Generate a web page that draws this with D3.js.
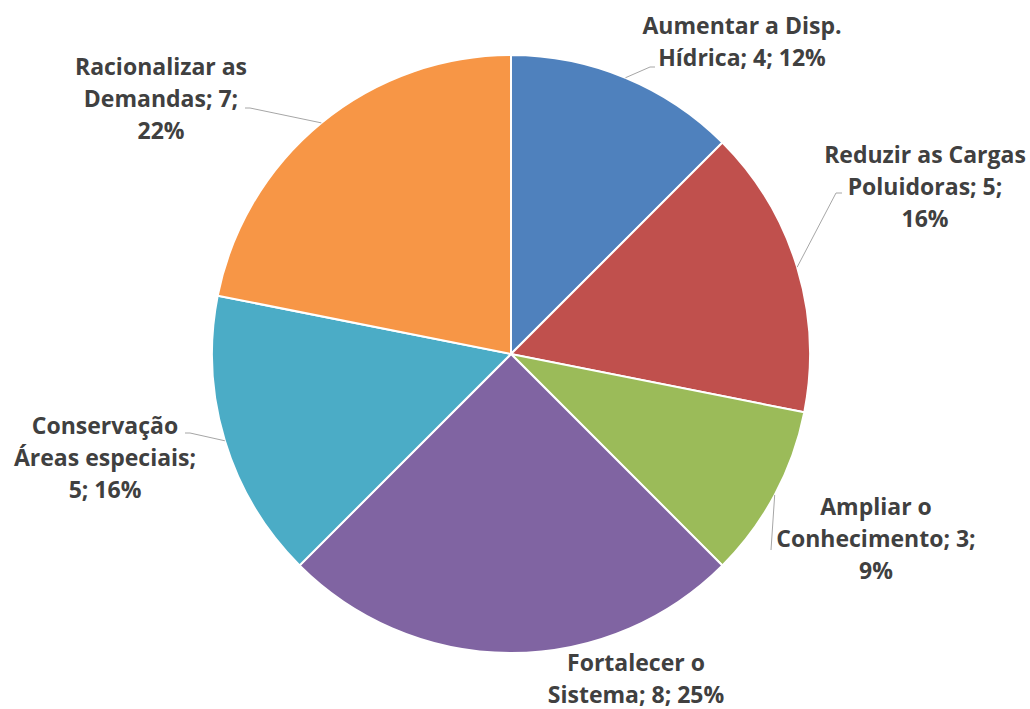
<!DOCTYPE html>
<html>
<head>
<meta charset="utf-8">
<script src="https://cdn.jsdelivr.net/npm/d3@7"></script>
<style>
  body { margin: 0; background: #fff; }
  svg text { font-family: "Open Sans", Lato, sans-serif; font-weight: bold; fill: #404040; }
</style>
</head>
<body>
<div id="chart"></div>
<script>
// data
const categories = [
    "Aumentar a Disp. Hídrica",
    "Reduzir as Cargas Poluidoras",
    "Ampliar o Conhecimento",
    "Fortalecer o Sistema",
    "Conservação Áreas especiais",
    "Racionalizar as Demandas"
];
const values = [4, 5, 3, 8, 5, 7];
const percents = ["12%", "16%", "9%", "25%", "16%", "22%"];

// how each data label is wrapped, as Excel did it
const labelLines = [
    ["Aumentar a Disp.", "Hídrica; 4; 12%"],
    ["Reduzir as Cargas", "Poluidoras; 5;", "16%"],
    ["Ampliar o", "Conhecimento; 3;", "9%"],
    ["Fortalecer o", "Sistema; 8; 25%"],
    ["Conservação", "Áreas especiais;", "5; 16%"],
    ["Racionalizar as", "Demandas; 7;", "22%"]
];

const colors = ["#4F81BD", "#C0504D", "#9BBB59", "#8064A2", "#4BACC6", "#F79646"];

// label placement (centre x, first baseline) and leader elbow, "best fit" style
const labelLayout = [
    {x: 742, y: 34, elbow: [650, 67], end: [655, 67]},
    {x: 925, y: 163, elbow: [836, 193], end: [842, 193]},
    {x: 876, y: 515, elbow: [771, 550], end: null},
    {x: 636, y: 671, elbow: null, end: null},
    {x: 105, y: 434, elbow: [190, 433], end: [185, 433]},
    {x: 161, y: 75, elbow: [250, 108], end: [245, 108]}
];

const width = 1030, height = 709;
const cx = 511, cy = 354, radius = 299;
const lineHeight = 32;

const svg = d3.select("#chart")
    .append("svg")
    .attr("width", width)
    .attr("height", height);

const pie = d3.pie().sort(null).value(d => d);
const arcs = pie(values);

const arc = d3.arc().innerRadius(0).outerRadius(radius);
const edge = d3.arc().innerRadius(radius).outerRadius(radius);

const g = svg.append("g").attr("transform", `translate(${cx},${cy})`);

g.selectAll("path.slice")
    .data(arcs)
    .enter().append("path")
    .attr("class", "slice")
    .attr("d", arc)
    .attr("fill", (d, i) => colors[i])
    .attr("stroke", "#fff")
    .attr("stroke-width", 2);

// leader lines
svg.append("g").selectAll("polyline")
    .data(arcs.filter((d, i) => labelLayout[i].elbow))
    .enter().append("polyline")
    .attr("points", d => {
        const L = labelLayout[d.index];
        const p = edge.centroid(d);
        const pts = [[p[0] + cx, p[1] + cy], L.elbow];
        if (L.end) pts.push(L.end);
        return pts.map(q => q.join(",")).join(" ");
    })
    .attr("fill", "none")
    .attr("stroke", "#a6a6a6")
    .attr("stroke-width", 1);

// data labels
const labels = svg.append("g").selectAll("text")
    .data(arcs)
    .enter().append("text")
    .attr("text-anchor", "middle")
    .attr("font-size", 23);

labels.selectAll("tspan")
    .data(d => labelLines[d.index].map(t => ({t, i: d.index})))
    .enter().append("tspan")
    .attr("x", d => labelLayout[d.i].x)
    .attr("y", (d, k) => labelLayout[d.i].y + k * lineHeight)
    .text(d => d.t);
</script>
</body>
</html>
